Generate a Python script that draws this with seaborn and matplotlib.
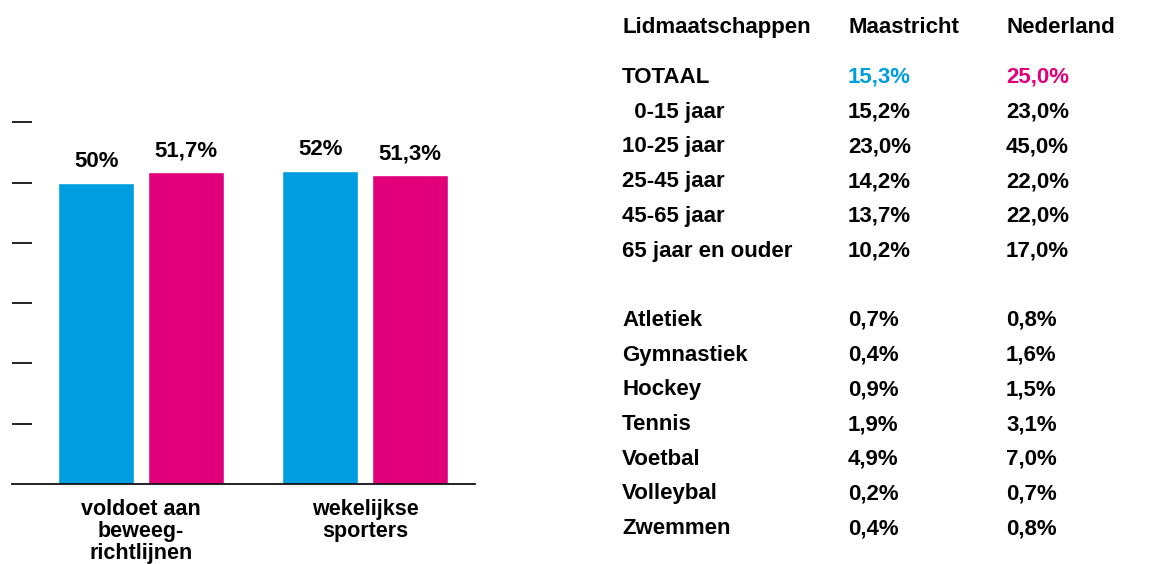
import pandas as pd
import numpy as np
import matplotlib.pyplot as plt
import seaborn as sns

sns.set_style("white")
plt.rcParams['font.family'] = ['Liberation Sans', 'DejaVu Sans']
plt.rcParams['font.weight'] = 'bold'

# bar chart data
categories = ['voldoet aan\nbeweeg-\nrichtlijnen', 'wekelijkse\nsporters']
regions = ['Maastricht', 'Nederland']
maastricht = [50.0, 52.0]
nederland = [51.7, 51.3]

# table data
header = ['Lidmaatschappen', 'Maastricht', 'Nederland']
age_groups = ['TOTAAL', '  0-15 jaar', '10-25 jaar', '25-45 jaar', '45-65 jaar', '65 jaar en ouder']
age_maastricht = ['15,3%', '15,2%', '23,0%', '14,2%', '13,7%', '10,2%']
age_nederland = ['25,0%', '23,0%', '45,0%', '22,0%', '22,0%', '17,0%']
sports = ['Atletiek', 'Gymnastiek', 'Hockey', 'Tennis', 'Voetbal', 'Volleybal', 'Zwemmen']
sport_maastricht = ['0,7%', '0,4%', '0,9%', '1,9%', '4,9%', '0,2%', '0,4%']
sport_nederland = ['0,8%', '1,6%', '1,5%', '3,1%', '7,0%', '0,7%', '0,8%']

blue = '#009EE0'
magenta = '#E2007A'
ink = '#000000'

df = pd.DataFrame({
    'categorie': categories * 2,
    'regio': [regions[0]] * 2 + [regions[1]] * 2,
    'waarde': maastricht + nederland,
})

fig = plt.figure(figsize=(11.73, 5.64), dpi=100)
W, H = 1173, 564
ax = fig.add_axes([12 / W, 80 / H, 463 / W, 422 / H])

sns.barplot(data=df, x='categorie', y='waarde', hue='regio', palette=[blue, magenta],
            gap=0.15, width=0.8, legend=False, ax=ax, saturation=1)

def fmt(v):
    s = f"{v:.1f}".replace('.', ',')
    if s.endswith(',0'):
        s = s[:-2]
    return s + '%'

for cont in ax.containers:
    ax.bar_label(cont, labels=[fmt(b.get_height()) for b in cont],
                 padding=7.5, fontsize=16, fontweight='bold', color=ink)

ax.set_ylim(0, 70)
ax.set_xlim(-0.576, 1.491)
ax.set_yticks([10, 20, 30, 40, 50, 60])
ax.set_yticklabels([])
ax.tick_params(axis='y', direction='in', length=14.4, width=1.4, color='#222222', left=True)
ax.tick_params(axis='x', length=0, pad=10.5, labelsize=15.5)
for lbl in ax.get_xticklabels():
    lbl.set_fontweight('bold')
    lbl.set_linespacing(1.07)
    lbl.set_color(ink)
ax.set_xlabel('')
ax.set_ylabel('')
for side in ['left', 'top', 'right']:
    ax.spines[side].set_visible(False)
ax.spines['bottom'].set_color('#111111')
ax.spines['bottom'].set_linewidth(1.3)

# table on the right
col_x = [622 / W, 848 / W, 1006 / W]
step = 34.7
def y_of(px):
    return 1 - px / H

for x, t in zip(col_x, header):
    fig.text(x, y_of(33), t, fontsize=16, fontweight='bold', va='baseline', color=ink)

for i, (a, m, n) in enumerate(zip(age_groups, age_maastricht, age_nederland)):
    yb = y_of(83 + i * step)
    fig.text(col_x[0], yb, a, fontsize=16, fontweight='bold', va='baseline', color=ink)
    fig.text(col_x[1], yb, m, fontsize=16, fontweight='bold', va='baseline',
             color=blue if i == 0 else ink)
    fig.text(col_x[2], yb, n, fontsize=16, fontweight='bold', va='baseline',
             color=magenta if i == 0 else ink)

for i, (s, m, n) in enumerate(zip(sports, sport_maastricht, sport_nederland)):
    yb = y_of(83 + (i + 7) * step)
    fig.text(col_x[0], yb, s, fontsize=16, fontweight='bold', va='baseline', color=ink)
    fig.text(col_x[1], yb, m, fontsize=16, fontweight='bold', va='baseline', color=ink)
    fig.text(col_x[2], yb, n, fontsize=16, fontweight='bold', va='baseline', color=ink)

plt.savefig('out.png', dpi=100)
